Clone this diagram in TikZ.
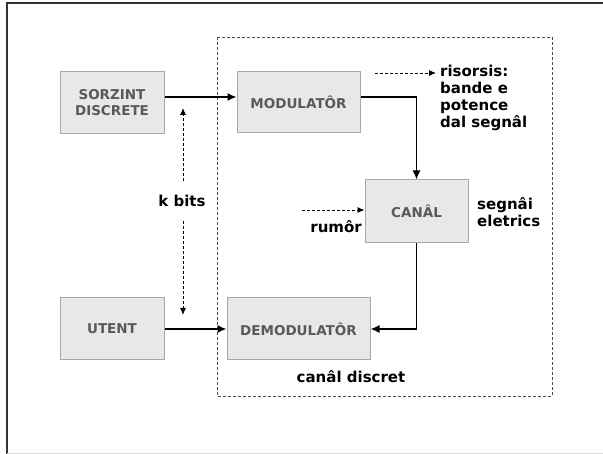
\documentclass[tikz,border=0pt]{standalone}
\usepackage{fontspec}
\setmainfont{DejaVu Sans}
\usepackage{tikz}
\usetikzlibrary{arrows.meta}

\definecolor{boxfill}{HTML}{E8E8E8}
\definecolor{boxline}{HTML}{A8A8A8}
\definecolor{boxtext}{HTML}{595959}

\tikzset{
  block/.style={draw=boxline, fill=boxfill, line width=1pt, inner sep=0pt,
    font=\fontsize{13.5}{16}\selectfont\bfseries, text=boxtext, align=center},
  lbl/.style={font=\fontsize{15}{17}\selectfont\bfseries, align=left, inner sep=0pt},
  flow/.style={-{Latex[length=9pt,width=8pt]}, line width=1.5pt},
  hint/.style={-{Latex[length=7pt,width=6pt]}, line width=0.9pt, dash pattern=on 3pt off 2pt}
}

\begin{document}
\begin{tikzpicture}[x=1pt,y=-1pt]
\useasboundingbox (0,0) rectangle (603,454);
% frame
\draw[line width=1.2pt, draw=black!80] (7,454) -- (7,3) -- (603,3);
\draw[line width=0.8pt, draw=black!15] (7,453) -- (603,453);
\draw[line width=0.8pt, draw=black!70, dash pattern=on 3pt off 2pt] (217,37) rectangle (552,396);

\node[block, minimum width=104, minimum height=62] (src) at (112,103) {SORZINT\\DISCRETE};
\node[block, minimum width=123, minimum height=61] (mod) at (298.5,102.5) {MODULATÔR};
\node[block, minimum width=103, minimum height=63] (ch) at (416.5,211.5) {CANÂL};
\node[block, minimum width=143, minimum height=62] (dem) at (298.5,329) {DEMODULATÔR};
\node[block, minimum width=104, minimum height=62] (usr) at (112,329) {UTENT};

\coordinate (kt) at (183,108);
\coordinate (kb) at (183,315);
\node[lbl] (kbits) at (182,201) {k bits};
\coordinate (rs) at (375,73);
\node[lbl, anchor=north west] (res) at (440,65) {risorsis:\\bande e\\potence\\dal segnâl};
\coordinate (ns) at (302,210);
\node[lbl, anchor=north east] (noise) at (362,220) {rumôr};
\node[lbl, anchor=west] (sig) at (477,212) {segnâi\\eletrics};
\node[lbl] (disc) at (351,377) {canâl discret};

\draw[flow] (src.east |- 0,97) -- (mod.west |- 0,97);
\draw[flow] (mod.east |- 0,97) -| (ch.north);
\draw[flow] (ch.south) |- (dem.east);
\draw[flow] (usr.east) -- (dem.west);
\draw[hint] ([yshift=14pt]kbits.north -| kt) -- (kt);
\draw[hint] ([yshift=-14pt]kbits.south -| kb) -- (kb);
\draw[hint] (rs) -- ([xshift=-4pt]res.west |- rs);
\draw[hint] (ns) -- (ch.west |- ns);
\end{tikzpicture}
\end{document}
